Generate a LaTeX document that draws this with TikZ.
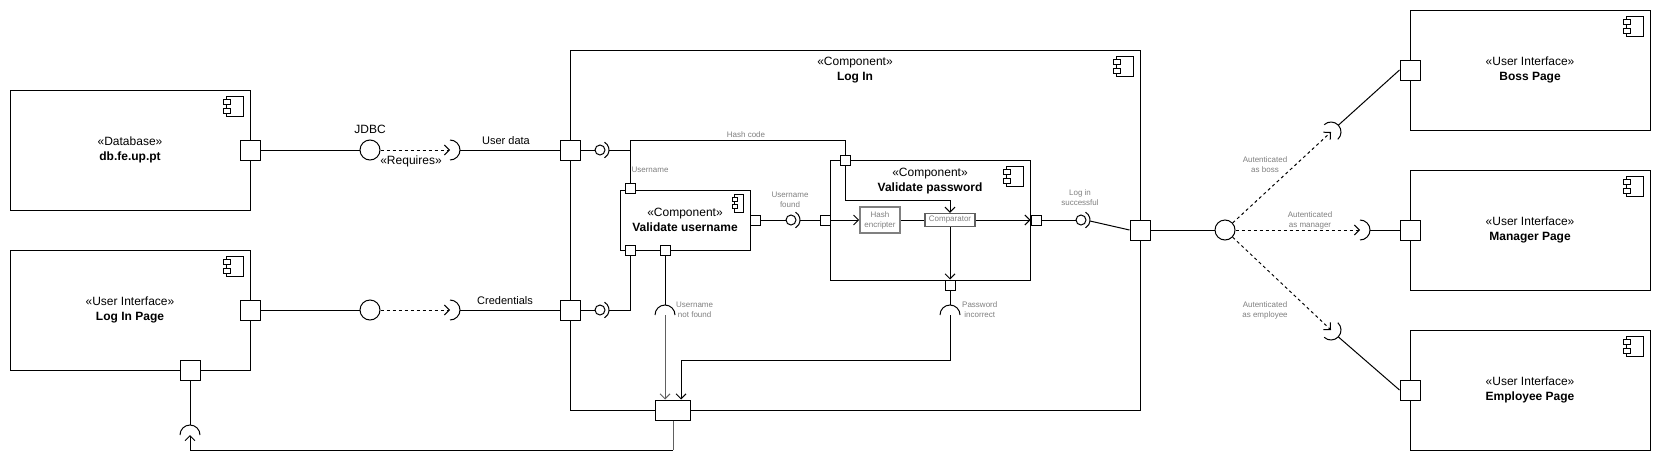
\documentclass[tikz,border=0pt]{standalone}
\usepackage{fontspec}
\setmainfont{Liberation Sans}
\usetikzlibrary{arrows.meta,calc}
\definecolor{lblgray}{HTML}{808080}
\definecolor{lngray}{HTML}{606060}
\newcommand{\sockarc}[3]{\draw[line width=1pt] ($(#1)+(#2-90:#3)$) arc[start angle=#2-90, end angle=#2+90, radius=#3];}
\newcommand{\pairarc}[1]{\draw[line width=1pt] ($(#1)+(-60:9)$) arc[start angle=-60, end angle=60, radius=9];}
\tikzset{
  conn/.style={line width=1pt},
  boxstyle/.style={draw, line width=1pt, inner sep=0pt, align=center, font=\fontsize{12}{15}\selectfont},
  titlestyle/.style={inner sep=0pt, align=center, font=\fontsize{12}{15}\selectfont},
  portbox/.style={draw, line width=1pt, fill=white, minimum size=20pt, inner sep=0pt},
  sportbox/.style={portbox, minimum size=10pt},
  ball/.style={circle, draw, line width=1pt, fill=white, minimum size=20pt, inner sep=0pt},
  sball/.style={ball, minimum size=10pt},
  lbl/.style={font=\fontsize{8}{10}\selectfont, text=lblgray, align=center, inner sep=0pt},
  mlbl/.style={font=\fontsize{11}{13}\selectfont, inner sep=0pt},
  blbl/.style={font=\fontsize{12}{14}\selectfont, inner sep=0pt},
  depend/.style={line width=1pt, dash pattern=on 3pt off 3pt, -{Straight Barb[length=5pt,width=10pt]}},
  flow/.style={line width=1pt, -{Straight Barb[length=5pt,width=10pt]}},
  compicon/.pic={
    \draw[line width=0.8pt, fill=white] (-24,7) rectangle (-7,27);
    \draw[line width=0.8pt, fill=white] (-27,10) rectangle (-20,15);
    \draw[line width=0.8pt, fill=white] (-27,19) rectangle (-20,24);
  },
  smallicon/.pic={
    \draw[line width=0.8pt, fill=white] (-16,5) rectangle (-7,23);
    \draw[line width=0.8pt, fill=white] (-18,8) rectangle (-13,12);
    \draw[line width=0.8pt, fill=white] (-18,15) rectangle (-13,19);
  }
}
\begin{document}
\begin{tikzpicture}[x=1pt,y=-1pt]
\useasboundingbox (0,0) rectangle (1661,469);
\fill[white] (0,0) rectangle (1661,469);

% ---------- left components ----------
\node[boxstyle, minimum width=240pt, minimum height=120pt] (db) at (130,150) {«Database»\\\textbf{db.fe.up.pt}};
\pic at (db.north east) {compicon};
\node[portbox] (dbp) at (250,150) {};

\node[boxstyle, minimum width=240pt, minimum height=120pt] (lp) at (130,310) {«User Interface»\\\textbf{Log In Page}};
\pic at (lp.north east) {compicon};
\node[portbox] (lpp) at (250,310) {};
\node[portbox] (lpb) at (190,370) {};

\node[ball] (b1) at (370,150) {};
\coordinate (s1) at (450,150);
\coordinate (s1p) at (460,150);
\node[ball] (b2) at (370,310) {};
\coordinate (s2) at (450,310);
\coordinate (s2p) at (460,310);
\coordinate (s3) at (190,435);
\coordinate (s3p) at (190,425);

\node[blbl] (jdbc) at (370,129) {JDBC};
\node[blbl] (req) at (411,161) {«Requires»};
\node[mlbl] (udata) at (506,141) {User data};
\node[mlbl] (lcred) at (505,301) {Credentials};

% ---------- Log In ----------
\node[boxstyle, minimum width=570pt, minimum height=360pt] (login) at (855,230) {};
\pic at (login.north east) {compicon};
\node[titlestyle] (logintitle) at (855,70) {«Component»\\\textbf{Log In}};

\node[boxstyle, minimum width=130pt, minimum height=60pt] (vu) at (685,220) {«Component»\\\textbf{Validate username}};
\pic at (vu.north east) {smallicon};

\node[boxstyle, minimum width=200pt, minimum height=120pt] (vp) at (930,220) {};
\pic at (vp.north east) {compicon};
\node[titlestyle] (vptitle) at (930,181) {«Component»\\\textbf{Validate password}};

\node[lbl, draw=lblgray, line width=1.6pt, minimum width=40pt, minimum height=26pt] (hash) at (880,220) {Hash\\encripter};
\node[lbl, draw=lngray, line width=1.4pt, minimum width=50pt, minimum height=13pt] (cmp) at (950,220) {Comparator};

\node[portbox] (lip) at (570,150) {};
\node[portbox] (lic) at (570,310) {};
\node[portbox, minimum width=35pt] (lib) at (673,410) {};
\node[portbox] (lio) at (1140,230) {};

\node[sportbox] (vut) at (630,188) {};
\node[sportbox] (vub1) at (630,250) {};
\node[sportbox] (vub2) at (665,250) {};
\node[sportbox] (vur) at (755,220) {};
\node[sportbox] (vpt) at (845,160) {};
\node[sportbox] (vpl) at (825,220) {};
\node[sportbox] (vpr) at (1036,220) {};
\node[sportbox] (vpb) at (950,285) {};

\node[sball] (bs1) at (600,150) {};
\node[sball] (bs2) at (600,310) {};
\node[sball] (bs3) at (791,220) {};
\node[sball] (bs4) at (1081,220) {};
\coordinate (bs1p) at (609,150);
\coordinate (bs2p) at (609,310);
\coordinate (bs3p) at (800,220);
\coordinate (bs4p) at (1090,221);

\coordinate (j1) at (630,150);
\coordinate (hcL) at (630,140);
\coordinate (hcR) at (845,140);
\coordinate (j2) at (630,310);
\coordinate (k1) at (845,200);
\coordinate (s4) at (665,315);
\coordinate (s4p) at (665,305);
\coordinate (s5) at (950,315);
\coordinate (s5p) at (950,305);
\coordinate (k2) at (950,360);
\coordinate (libR) at ($(lib.north)+(8,0)$);
\coordinate (k3) at (673,450);
\coordinate (k4) at (190,450);

\node[lbl] (lhash) at (746,135) {Hash code};
\node[lbl] (luser) at (650,170) {Username};
\node[lbl] (lfound) at (790,200) {Username\\found};
\node[lbl, anchor=west] (lnf) at (676,310) {Username\\not found};
\node[lbl, anchor=west] (lpi) at (962,310) {Password\\incorrect};
\node[lbl] (lls) at (1080,198) {Log in\\successful};

% ---------- right components ----------
\node[ball] (b3) at (1225,230) {};
\coordinate (s6) at (1331,132);
\coordinate (s6p) at ($(s6)+(-42.8:10)$);
\coordinate (s7) at (1360,230);
\coordinate (s7p) at (1370,230);
\coordinate (s8) at (1331,330);
\coordinate (s8p) at ($(s8)+(43.3:10)$);

\node[boxstyle, minimum width=240pt, minimum height=120pt] (boss) at (1530,70) {«User Interface»\\\textbf{Boss Page}};
\pic at (boss.north east) {compicon};
\node[portbox] (bossp) at (1410,70) {};
\node[boxstyle, minimum width=240pt, minimum height=120pt] (mgr) at (1530,230) {«User Interface»\\\textbf{Manager Page}};
\pic at (mgr.north east) {compicon};
\node[portbox] (mgrp) at (1410,230) {};
\node[boxstyle, minimum width=240pt, minimum height=120pt] (emp) at (1530,390) {«User Interface»\\\textbf{Employee Page}};
\pic at (emp.north east) {compicon};
\node[portbox] (empp) at (1410,390) {};

\node[lbl] (lab) at (1265,165) {Autenticated\\as boss};
\node[lbl] (lam) at (1310,220) {Autenticated\\as manager};
\node[lbl] (lae) at (1265,310) {Autenticated\\as employee};

% ---------- sockets ----------
\sockarc{s1}{0}{10}
\sockarc{s2}{0}{10}
\sockarc{s3}{-90}{10}
\sockarc{s4}{-90}{10}
\sockarc{s5}{-90}{10}
\sockarc{s6}{-42.8}{10}
\sockarc{s7}{0}{10}
\sockarc{s8}{43.3}{10}
\pairarc{bs1}
\pairarc{bs2}
\pairarc{bs3}
\pairarc{bs4}

% ---------- connectors ----------
\draw[conn] (dbp.east) -- (b1.west);
\draw[depend] (b1.east) -- (s1);
\draw[conn] (s1p) -- (lip.west);
\draw[conn] (lpp.east) -- (b2.west);
\draw[depend] (b2.east) -- (s2);
\draw[conn] (s2p) -- (lic.west);
\draw[conn] (lpb.south) -- (s3p);
\draw[conn, draw=lngray] (lib.south) -- (k3);
\draw[flow] (k3) -- (k4) -- (s3);

\draw[conn] (lip.east) -- (bs1.west);
\draw[conn] (bs1p) -- (j1);
\draw[conn] (vut.north) -- (hcL) -- (hcR) -- (vpt.north);
\draw[conn] (lic.east) -- (bs2.west);
\draw[conn] (bs2p) -- (j2) -- (vub1.south);
\draw[conn] (vur.east) -- (bs3.west);
\draw[conn] (bs3p) -- (vpl.west);
\draw[flow] (vpl.east) -- (hash.west);
\draw[conn] (hash.east) -- (cmp.west);
\draw[flow] (cmp.east) -- (vpr.west);
\draw[flow] (vpt.south) -- (k1) -| (cmp.north);
\draw[flow] (cmp.south) -- (vpb.north);
\draw[conn] (vpb.south) -- (s5p);
\draw[flow] (s5) -- (k2) -| (libR);
\draw[conn] (vub2.south) -- (s4p);
\draw[flow, draw=lngray] (s4) -- (s4 |- lib.north);
\draw[conn] (vpr.east) -- (bs4.west);
\draw[conn] (bs4p) -- (lio.west);

\draw[conn] (lio.east) -- (b3.west);
\draw[depend] (b3) -- (s6);
\draw[depend] (b3.east) -- (s7);
\draw[depend] (b3) -- (s8);
\draw[conn] (s6p) -- (bossp.west);
\draw[conn] (s7p) -- (mgrp.west);
\draw[conn] (s8p) -- (empp.west);
\end{tikzpicture}
\end{document}
